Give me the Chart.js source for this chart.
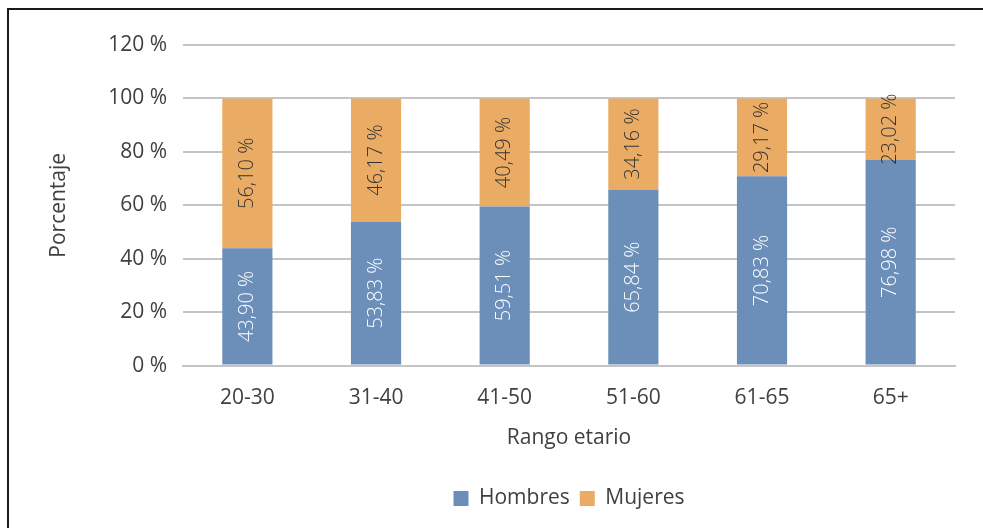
<!doctype html>
<html lang="es">
  <head>
    <meta charset="utf-8">
    <title>Porcentaje por rango etario</title>
    <style>
      * {
        margin: 0;
        padding: 0;
      }
      body {
        background: white;
        width: 983px;
        height: 528px;
        overflow: hidden;
        position: relative;
      }
      .frame {
        position: absolute;
        left: 7px;
        top: 8px;
        width: 990px;
        height: 540px;
        border: 2px solid #1a1a1a;
        box-sizing: border-box;
      }
      .chartBox {
        position: absolute;
        left: 0;
        top: 0;
        width: 983px;
        height: 528px;
      }
    </style>
  </head>
  <body>
    <div class="frame"></div>
    <div class="chartBox">
      <canvas id="myChart"></canvas>
    </div>
    <script src="https://cdn.jsdelivr.net/npm/chart.js/dist/chart.umd.min.js"></script>
    <script>
    const categories = ['20-30', '31-40', '41-50', '51-60', '61-65', '65+'];
    const hombres = [43.90, 53.83, 59.51, 65.84, 70.83, 76.98];
    const mujeres = [56.10, 46.17, 40.49, 34.16, 29.17, 23.02];
    const yTicks = [0, 20, 40, 60, 80, 100, 120];

    const textColor = '#404040';
    const fontFamily = '"Open Sans", sans-serif';

    // writes each value rotated inside its segment
    const barLabels = {
      id: 'barLabels',
      afterDatasetsDraw(chart) {
        const ctx = chart.ctx;
        chart.data.datasets.forEach((ds, i) => {
          const meta = chart.getDatasetMeta(i);
          meta.data.forEach((bar, j) => {
            const txt = ds.data[j].toFixed(2).replace('.', ',') + ' %';
            ctx.save();
            ctx.translate(bar.x, (bar.y + bar.base) / 2);
            ctx.rotate(-Math.PI / 2);
            ctx.font = '300 20px ' + fontFamily;
            ctx.fillStyle = ds.labelColor;
            ctx.textAlign = 'center';
            ctx.textBaseline = 'middle';
            ctx.fillText(txt, 0, 0);
            ctx.restore();
          });
        });
      }
    };

    const data = {
      labels: categories,
      datasets: [{
        label: 'Hombres',
        data: hombres,
        backgroundColor: '#6c8fba',
        labelColor: '#ffffff',
        categoryPercentage: 1,
        barPercentage: 0.39
      }, {
        label: 'Mujeres',
        data: mujeres,
        backgroundColor: '#eaac65',
        labelColor: '#333333',
        categoryPercentage: 1,
        barPercentage: 0.39
      }]
    };

    const font = { family: fontFamily, size: 21 };

    const config = {
      type: 'bar',
      data,
      options: {
        responsive: false,
        animation: false,
        layout: {
          padding: { top: 45, right: 28, left: 42, bottom: 9 }
        },
        scales: {
          x: {
            stacked: true,
            grid: { display: false },
            border: { color: '#c4c4c4', width: 2 },
            ticks: {
              color: textColor,
              font,
              padding: 12
            },
            title: {
              display: true,
              text: 'Rango etario',
              color: textColor,
              font,
              padding: { top: 3, bottom: 27 }
            }
          },
          y: {
            stacked: true,
            min: 0,
            max: 120,
            afterBuildTicks: (axis) => {
              axis.ticks = yTicks.map((v) => ({ value: v }));
            },
            grid: { color: '#c4c4c4', lineWidth: 2, drawTicks: false },
            border: { display: false },
            ticks: {
              color: textColor,
              font,
              padding: 16,
              callback: (v) => v + ' %'
            },
            title: {
              display: true,
              text: 'Porcentaje',
              color: textColor,
              font,
              padding: { bottom: 21 }
            }
          }
        },
        plugins: {
          legend: {
            position: 'bottom',
            fullSize: false,
            labels: {
              color: textColor,
              font,
              boxWidth: 15,
              boxHeight: 15,
              padding: 10
            }
          },
          tooltip: { enabled: false }
        }
      },
      plugins: [barLabels]
    };

    const canvas = document.getElementById('myChart');
    canvas.width = 983;
    canvas.height = 528;
    new Chart(canvas, config);
    </script>
  </body>
</html>
